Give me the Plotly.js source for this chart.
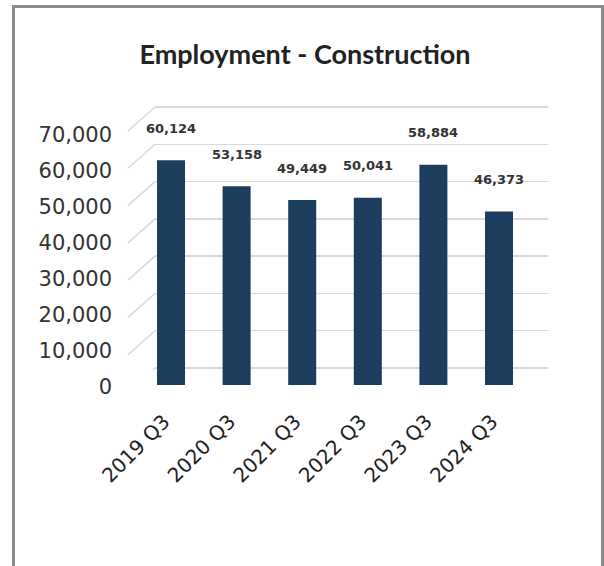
<!DOCTYPE html>
<html>
<head>
<meta charset="utf-8">
<script src="https://cdn.plot.ly/plotly-3.0.1.min.js"></script>
<style>
  html, body { margin: 0; padding: 0; background: #ffffff; }
  #chart { width: 604px; height: 566px; }
</style>
</head>
<body>
<div id="chart"></div>
<script>
// ---- data ----
const categories = ['2019 Q3', '2020 Q3', '2021 Q3', '2022 Q3', '2023 Q3', '2024 Q3'];
const employment = [60124, 53158, 49449, 50041, 58884, 46373];
const yTickValues = [0, 10000, 20000, 30000, 40000, 50000, 60000, 70000];
const yTickLabels = ['0', '10,000', '20,000', '30,000', '40,000', '50,000', '60,000', '70,000'];
const chartTitle = 'Employment - Construction';

// ---- geometry helpers (pixel -> paper) ----
const W = 604, H = 566;
const px = v => v / W;
const py = v => (H - v) / H;

const gridColor = '#d9d9d9';
const barColor = '#1b3e5f';
const tickFont = { family: 'DejaVu Sans, sans-serif', size: 21, color: '#333333' };

const gridPad = 500;
const gridScale = (368 - 107) / 70000; // px per unit
const traces = [
  { // helper for back-wall grid axis
    type: 'scatter', x: [0, 1], y: [yTickValues[0], yTickValues[yTickValues.length - 1]],
    xaxis: 'x', yaxis: 'y', mode: 'none', hoverinfo: 'skip', showlegend: false
  },
  {
    type: 'bar', x: categories, y: employment, xaxis: 'x2', yaxis: 'y2',
    marker: { color: barColor }, hoverinfo: 'x+y', showlegend: false
  },
  { // helper for tick-label axis
    type: 'scatter', x: [0, 1], y: [yTickValues[0], yTickValues[yTickValues.length - 1]],
    xaxis: 'x3', yaxis: 'y3', mode: 'none', hoverinfo: 'skip', showlegend: false
  }
];

const shapes = [];
// perspective diagonals of the grid lines
yTickValues.forEach(v => {
  shapes.push({
    type: 'line', layer: 'below',
    xref: 'paper', xsizemode: 'pixel', xanchor: px(155), x0: -27, x1: 0,
    yref: 'y', ysizemode: 'pixel', yanchor: v, y0: -24, y1: 0,
    line: { color: gridColor, width: 1.5 }
  });
});
// frame
const frame = { color: '#8c8c8c', width: 3 };
shapes.push({ type: 'line', xref: 'paper', yref: 'paper', x0: px(13.5), x1: px(13.5), y0: py(5), y1: py(580), line: frame });
shapes.push({ type: 'line', xref: 'paper', yref: 'paper', x0: px(12), x1: px(604), y0: py(6.5), y1: py(6.5), line: frame });
shapes.push({ type: 'line', xref: 'paper', yref: 'paper', x0: px(602.5), x1: px(602.5), y0: py(5), y1: py(580), line: frame });

const annotations = categories.map((c, i) => ({
  xref: 'x2', yref: 'y2', x: c, y: employment[i],
  text: employment[i].toLocaleString('en-US'),
  showarrow: false, yshift: 32, yanchor: 'middle',
  font: { family: 'DejaVu Sans, sans-serif', size: 13, color: '#333333', weight: 'bold' }
}));

const layout = {
  width: W, height: H,
  margin: { l: 0, r: 0, t: 0, b: 0 },
  paper_bgcolor: 'rgba(0,0,0,0)',
  plot_bgcolor: 'rgba(0,0,0,0)',
  showlegend: false,
  title: {
    text: chartTitle,
    x: px(305), xanchor: 'center', xref: 'container',
    y: py(55), yanchor: 'middle', yref: 'container',
    font: { family: 'Lato, sans-serif', size: 27, color: '#222222', weight: 'bold' }
  },
  // back-wall grid
  xaxis: { domain: [px(155), px(548)], range: [0, 1], visible: false, fixedrange: true },
  yaxis: {
    domain: [py(368 + gridPad * gridScale), py(107 - gridPad * gridScale)],
    range: [-gridPad, 70000 + gridPad], anchor: 'x',
    tickvals: yTickValues, showticklabels: false, ticks: '',
    showgrid: true, gridcolor: gridColor, gridwidth: 1.5,
    zeroline: false, showline: false, fixedrange: true
  },
  // bars
  xaxis2: {
    domain: [px(138.2), px(531.8)], anchor: 'y2', type: 'category',
    range: [-0.5, categories.length - 0.5],
    tickangle: -45, ticks: '', ticklabelstandoff: 20, ticklabelshift: -7,
    tickfont: { family: 'DejaVu Sans, sans-serif', size: 20, color: '#222222' },
    showgrid: false, zeroline: false, showline: false, fixedrange: true
  },
  yaxis2: {
    domain: [py(385), py(385 - 70000 * 37.4 / 10000)], anchor: 'x2',
    range: [0, 70000], visible: false, fixedrange: true
  },
  bargap: 1 - 28 / 65.6,
  // tick labels (front edge)
  xaxis3: { domain: [px(113), px(120)], range: [0, 1], anchor: 'y3', visible: false, fixedrange: true },
  yaxis3: {
    domain: [py(387), py(135)], anchor: 'x3', range: [0, 70000],
    tickvals: yTickValues, ticktext: yTickLabels, ticks: '',
    tickfont: tickFont, showgrid: false, zeroline: false, showline: false, fixedrange: true
  },
  shapes: shapes,
  annotations: annotations
};

Plotly.newPlot('chart', traces, layout, { displayModeBar: false, staticPlot: true });
</script>
</body>
</html>
